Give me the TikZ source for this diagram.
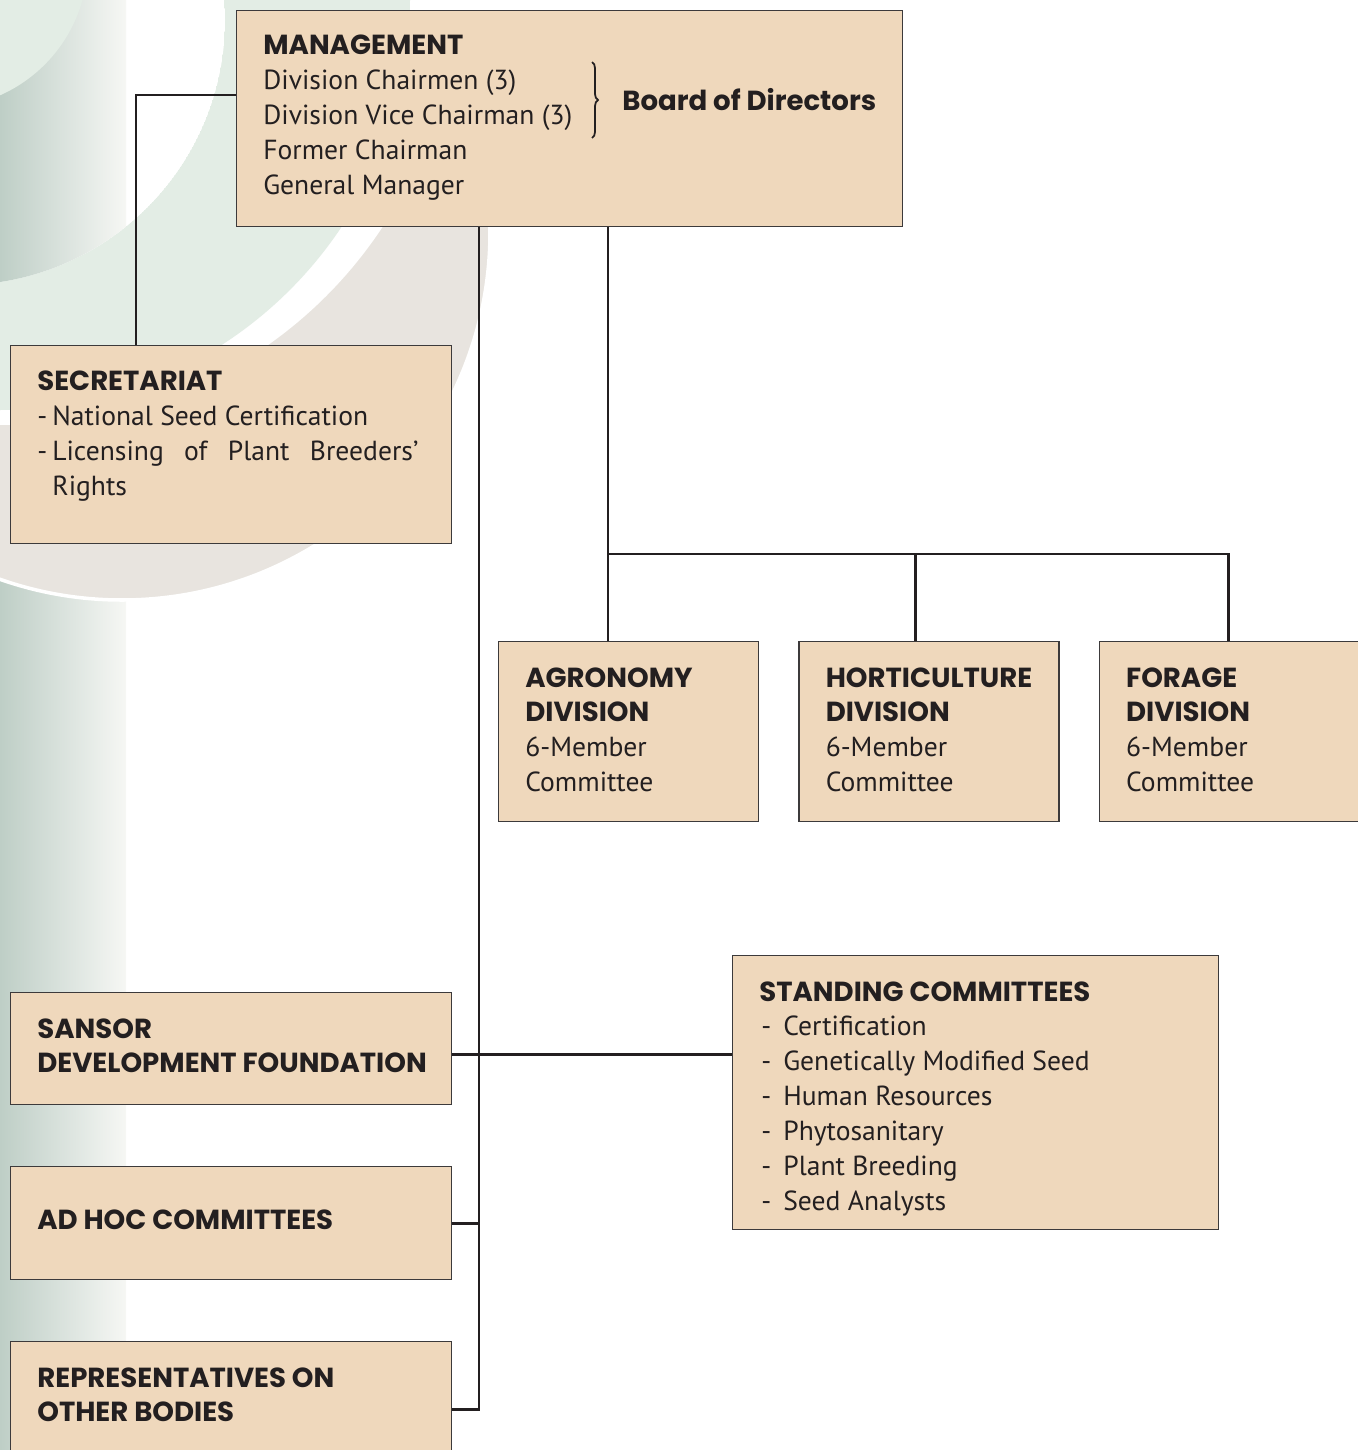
\documentclass[tikz,border=0pt]{standalone}
\usepackage{fontspec}
\setmainfont{PT Sans}[BoldFont={Poppins Bold}]
\usepackage{xcolor}
\usetikzlibrary{positioning,decorations.pathreplacing}

\definecolor{boxfill}{HTML}{EFD8BC}
\definecolor{boxline}{HTML}{3C3A3B}
\definecolor{ink}{HTML}{231F20}
\definecolor{leafgreen}{HTML}{E3EDE5}
\definecolor{ringbeige}{HTML}{E8E4DF}
\definecolor{stripgrey}{HTML}{BECEC6}
\definecolor{stripend}{HTML}{F6F7F4}

\newlength{\px}
\setlength{\px}{0.02cm}
\newcommand{\secdash}{\makebox[15\px][l]{-}}
\newcommand{\comdash}{\makebox[24\px][l]{\hspace{2\px}-}}

\begin{document}
\begin{tikzpicture}[
    x=0.02cm, y=-0.02cm,
    font=\fontsize{15.7}{19.84}\selectfont,
    box/.style={draw=boxline, fill=boxfill, line width=0.8pt, anchor=north west, inner sep=0pt},
    txt/.style={anchor=north west, align=left, inner xsep=27\px, inner ysep=26\px, text=ink},
    link/.style={draw=ink, line width=1.6pt}
]
\useasboundingbox (0,0) rectangle (1358,1450);
\clip (0,0) rectangle (1358,1450);

% background swirl
\shade[left color=stripgrey, right color=stripend] (0,0) rectangle (126,1450);
\fill[ringbeige, draw=white, line width=2pt] (122,232) circle[radius=368\px];
\fill[white] (15,-15) circle[radius=440\px];
\fill[leafgreen] (0,0) circle[radius=410\px];
\begin{scope}
    \clip (-40,20) circle[radius=265\px];
    \fill[white] (-40,20) circle[radius=265\px];
    \shade[left color=stripgrey, right color=stripend] (0,0) rectangle (126,1450);
\end{scope}
\fill[leafgreen] (-60,-40) circle[radius=148\px];

% boxes
\node[box, minimum width=666\px, minimum height=216\px] (mgmt) at (236,10) {};
\node[box, minimum width=441\px, minimum height=198\px] (sec) at (10,345) {};
\node[box, minimum width=260\px, minimum height=180\px] (agr) at (498,641) {};
\node[box, minimum width=260\px, minimum height=180\px, right=39\px of agr] (hort) {};
\node[box, minimum width=260\px, minimum height=180\px, right=39\px of hort] (forage) {};
\node[box, minimum width=486\px, minimum height=274\px] (stand) at (732,955) {};
\node[box, minimum width=441\px, minimum height=112\px] (sansor) at (10,992) {};
\node[box, minimum width=441\px, minimum height=113\px] (adhoc) at (10,1166) {};
\node[box, minimum width=441\px, minimum height=136\px] (rep) at (10,1341) {};

% texts
\node[txt, inner ysep=25\px] (mgmt-t) at (mgmt.north west)
    {\textbf{MANAGEMENT}\\Division Chairmen (3)\\Division Vice Chairman (3)\\Former Chairman\\General Manager};
\draw[ink, line width=1pt, decorate, decoration={brace, amplitude=6\px}] (592,62) -- (592,138);
\node[anchor=west, inner sep=0pt, text=ink] (board) at (622,100) {\textbf{Board of Directors}};
\node[txt] (sec-t) at (sec.north west)
    {\textbf{SECRETARIAT}\\\secdash National Seed Certification\\\secdash\makebox[366\px][s]{Licensing of Plant Breeders'}\\\hspace*{15\px}Rights};
\node[txt] (agr-t) at (agr.north west) {\textbf{AGRONOMY}\\\textbf{DIVISION}\\6-Member\\Committee};
\node[txt] (hort-t) at (hort.north west) {\textbf{HORTICULTURE}\\\textbf{DIVISION}\\6-Member\\Committee};
\node[txt] (forage-t) at (forage.north west) {\textbf{FORAGE}\\\textbf{DIVISION}\\6-Member\\Committee};
\node[txt] (stand-t) at (stand.north west)
    {\textbf{STANDING COMMITTEES}\\\comdash Certification\\\comdash Genetically Modified Seed\\\comdash Human Resources\\\comdash Phytosanitary\\\comdash Plant Breeding\\\comdash Seed Analysts};
\node[txt] (sansor-t) at (sansor.north west) {\textbf{SANSOR}\\\textbf{DEVELOPMENT FOUNDATION}};
\node[txt, anchor=west, inner ysep=0pt] (adhoc-t) at ([yshift=3\px]adhoc.west) {\textbf{AD HOC COMMITTEES}};
\node[txt] (rep-t) at (rep.north west) {\textbf{REPRESENTATIVES ON}\\\textbf{OTHER BODIES}};

% connectors
\draw[link] ([yshift=-85\px]mgmt.north west) -| ([xshift=126\px]sec.north west);
\coordinate (trunk) at ([xshift=243\px]mgmt.south west);
\draw[link] (trunk) |- (rep.east);
\draw[link] (adhoc.east) -- (adhoc.east -| trunk);
\coordinate (sf) at ([yshift=-6\px]sansor.east);
\draw[link] (sf) -- (sf -| stand.west);
\coordinate (bus) at (608,554);
\draw[link] (mgmt.south -| bus) -- (agr.north -| bus);
\draw[link] (bus) -| ([xshift=117\px]hort.north west);
\draw[link] (bus) -| ([xshift=130\px]forage.north west);
\end{tikzpicture}
\end{document}
